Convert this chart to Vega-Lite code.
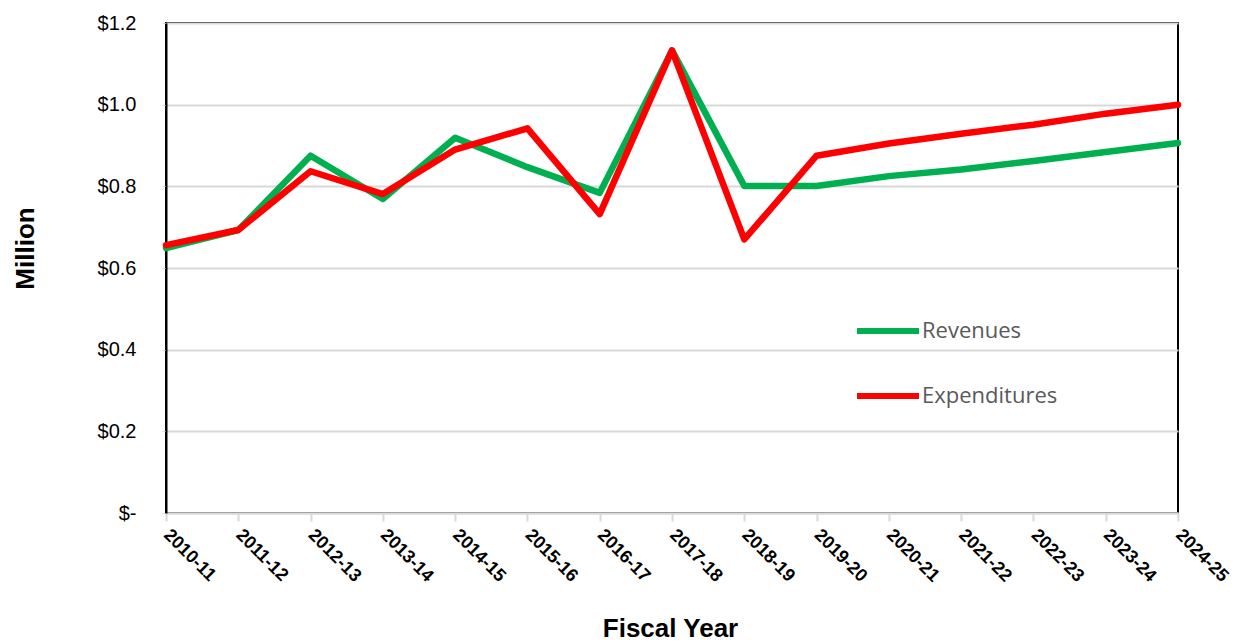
{
  "$schema": "https://vega.github.io/schema/vega-lite/v6.json",
  "autosize": "none",
  "width": 1012,
  "height": 490,
  "padding": {"left": 166, "top": 23, "right": 68, "bottom": 131},
  "background": "white",
  "config": {
    "view": {"stroke": "#000000", "strokeWidth": 2},
    "font": "Liberation Sans"
  },
  "data": {
    "values": [
      {"year": "2010-11", "series": "Revenues", "value": 0.649},
      {"year": "2011-12", "series": "Revenues", "value": 0.693},
      {"year": "2012-13", "series": "Revenues", "value": 0.875},
      {"year": "2013-14", "series": "Revenues", "value": 0.769},
      {"year": "2014-15", "series": "Revenues", "value": 0.919},
      {"year": "2015-16", "series": "Revenues", "value": 0.847},
      {"year": "2016-17", "series": "Revenues", "value": 0.784},
      {"year": "2017-18", "series": "Revenues", "value": 1.133},
      {"year": "2018-19", "series": "Revenues", "value": 0.801},
      {"year": "2019-20", "series": "Revenues", "value": 0.801},
      {"year": "2020-21", "series": "Revenues", "value": 0.825},
      {"year": "2021-22", "series": "Revenues", "value": 0.841},
      {"year": "2022-23", "series": "Revenues", "value": 0.862},
      {"year": "2023-24", "series": "Revenues", "value": 0.884},
      {"year": "2024-25", "series": "Revenues", "value": 0.906},
      {"year": "2010-11", "series": "Expenditures", "value": 0.656},
      {"year": "2011-12", "series": "Expenditures", "value": 0.693},
      {"year": "2012-13", "series": "Expenditures", "value": 0.837},
      {"year": "2013-14", "series": "Expenditures", "value": 0.781},
      {"year": "2014-15", "series": "Expenditures", "value": 0.890},
      {"year": "2015-16", "series": "Expenditures", "value": 0.942},
      {"year": "2016-17", "series": "Expenditures", "value": 0.732},
      {"year": "2017-18", "series": "Expenditures", "value": 1.133},
      {"year": "2018-19", "series": "Expenditures", "value": 0.670},
      {"year": "2019-20", "series": "Expenditures", "value": 0.875},
      {"year": "2020-21", "series": "Expenditures", "value": 0.905},
      {"year": "2021-22", "series": "Expenditures", "value": 0.929},
      {"year": "2022-23", "series": "Expenditures", "value": 0.951},
      {"year": "2023-24", "series": "Expenditures", "value": 0.978},
      {"year": "2024-25", "series": "Expenditures", "value": 1.000}
    ]
  },
  "mark": {"type": "line", "strokeWidth": 6.5, "strokeJoin": "round", "strokeCap": "round"},
  "encoding": {
    "x": {
      "field": "year",
      "type": "ordinal",
      "scale": {"type": "point", "padding": 0},
      "axis": {
        "title": "Fiscal Year",
        "titleFont": "Liberation Sans",
        "titleFontSize": 26,
        "titleFontWeight": "bold",
        "titleColor": "#000000",
        "titleX": 504,
        "titleY": 115,
        "titleBaseline": "middle",
        "labelAngle": 45,
        "labelAlign": "left",
        "labelBaseline": "middle",
        "labelPadding": 11,
        "labelFontSize": 18,
        "labelFontWeight": "bold",
        "labelColor": "#000000",
        "labelLimit": 0,
        "domainColor": "#d9d9d9",
        "domainWidth": 2,
        "tickColor": "#d9d9d9",
        "tickWidth": 2,
        "tickSize": 8,
        "grid": false
      }
    },
    "y": {
      "field": "value",
      "type": "quantitative",
      "scale": {"domain": [0, 1.2], "nice": false},
      "axis": {
        "title": "Million",
        "titleFont": "Liberation Sans",
        "titleFontSize": 26,
        "titleFontWeight": "bold",
        "titleColor": "#000000",
        "titleX": -141,
        "titleY": 225,
        "titleBaseline": "middle",
        "values": [0, 0.2, 0.4, 0.6, 0.8, 1.0, 1.2],
        "labelExpr": "datum.value == 0 ? '$-' : '$' + format(datum.value, '.1f')",
        "labelFontSize": 20,
        "labelColor": "#000000",
        "labelPadding": 26,
        "tickSize": 4,
        "tickColor": "#d9d9d9",
        "domainColor": "#000000",
        "domainWidth": 2,
        "gridColor": "#d9d9d9",
        "gridWidth": 2
      }
    },
    "color": {
      "field": "series",
      "type": "nominal",
      "scale": {"domain": ["Revenues", "Expenditures"], "range": ["#00b050", "#ff0000"]},
      "legend": {
        "title": null,
        "orient": "none",
        "legendX": 688,
        "legendY": 274,
        "symbolType": "stroke",
        "symbolSize": 3844,
        "symbolStrokeWidth": 6,
        "rowPadding": 19,
        "labelOffset": 0,
        "labelFont": "Open Sans",
        "labelFontSize": 22,
        "labelColor": "#595959"
      }
    }
  }
}
